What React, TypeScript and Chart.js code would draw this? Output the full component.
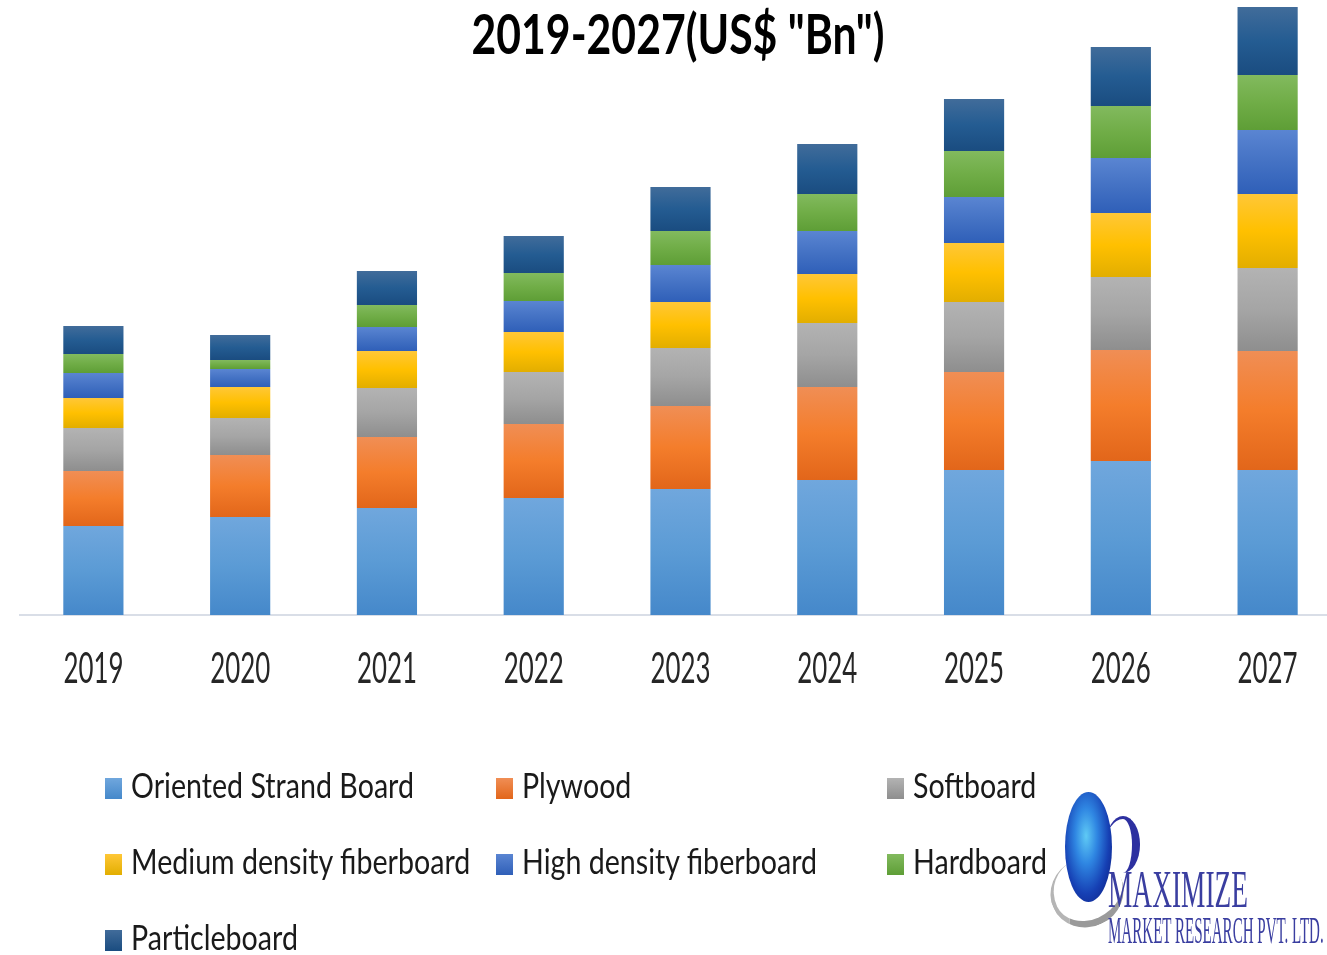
import React, { useEffect, useRef } from "react";
import { Chart, registerables } from "chart.js";

Chart.register(...registerables);

const YEARS = ["2019", "2020", "2021", "2022", "2023", "2024", "2025", "2026", "2027"];

const SERIES_NAMES = [
  "Oriented Strand Board",
  "Plywood",
  "Softboard",
  "Medium density fiberboard",
  "High density fiberboard",
  "Hardboard",
  "Particleboard",
];

const OSB = [8.9, 9.8, 10.7, 11.7, 12.6, 13.5, 14.5, 15.4, 14.5];
const PLYWOOD = [5.5, 6.2, 7.1, 7.4, 8.3, 9.3, 9.8, 11.1, 11.9];
const SOFTBOARD = [4.3, 3.7, 4.9, 5.2, 5.8, 6.4, 7.0, 7.3, 8.3];
const MDF = [3.0, 3.1, 3.7, 4.0, 4.6, 4.9, 5.9, 6.4, 7.4];
const HDF = [2.5, 1.8, 2.4, 3.1, 3.7, 4.3, 4.6, 5.5, 6.4];
const HARDBOARD = [1.9, 0.9, 2.2, 2.8, 3.4, 3.7, 4.6, 5.2, 5.5];
const PARTICLEBOARD = [2.8, 2.5, 3.4, 3.7, 4.4, 5.0, 5.2, 5.9, 6.8];

const SERIES_VALUES = [OSB, PLYWOOD, SOFTBOARD, MDF, HDF, HARDBOARD, PARTICLEBOARD];

// [top, middle, bottom] gradient colours, base colour for legend
const SERIES_COLORS = [
  { base: "#5B9BD5", stops: ["#70A7DD", "#5B9BD5", "#4588CA"] },
  { base: "#ED7D31", stops: ["#F08E55", "#F47D2B", "#E2661A"] },
  { base: "#A5A5A5", stops: ["#B3B3B3", "#A5A5A5", "#8E8E8E"] },
  { base: "#FFC000", stops: ["#FFC737", "#FFC000", "#E2AE00"] },
  { base: "#4472C4", stops: ["#5A85D2", "#4472C4", "#2F5FB8"] },
  { base: "#70AD47", stops: ["#82BA5E", "#70AD47", "#5E9E36"] },
  { base: "#255E91", stops: ["#416C9A", "#245C92", "#1A4C80"] },
];

const TITLE = '2019-2027(US$ "Bn")';
const FONT = "Lato, 'Open Sans', 'Liberation Sans', sans-serif";
const SERIF = "'Liberation Serif', 'DejaVu Serif', serif";

const LEGEND_COLS = [105, 496, 887];
const LEGEND_ROWS = [773, 849, 925];

function measure(text: string, font: string): number {
  const c = document.createElement("canvas").getContext("2d");
  if (!c) return 1;
  c.font = font;
  return c.measureText(text).width || 1;
}

const stretchTicks = {
  id: "stretchTicks",
  afterDraw(chart: any) {
    const xs = chart.scales.x;
    const ctx = chart.ctx;
    ctx.save();
    ctx.font = `32px ${FONT}`;
    ctx.fillStyle = "#262626";
    ctx.textAlign = "center";
    ctx.textBaseline = "alphabetic";
    xs.ticks.forEach((t: any, i: number) => {
      const label = String(xs.getLabelForValue(t.value));
      const x = xs.getPixelForTick(i);
      const w = ctx.measureText(label).width || 1;
      ctx.save();
      ctx.translate(x, xs.top + 68);
      ctx.scale(60 / w, 1.3);
      ctx.fillText(label, 0, 0);
      ctx.restore();
    });
    ctx.restore();
  },
};

export default function App() {
  const canvasRef = useRef<HTMLCanvasElement | null>(null);

  useEffect(() => {
    const canvas = canvasRef.current;
    if (!canvas) return;
    const chart = new Chart(canvas, {
      type: "bar",
      data: {
        labels: YEARS,
        datasets: SERIES_VALUES.map((vals, d) => ({
          label: SERIES_NAMES[d],
          data: vals,
          barPercentage: 0.41,
          categoryPercentage: 1,
          borderWidth: 0,
          backgroundColor: (ctx: any) => {
            const c = SERIES_COLORS[d];
            if (ctx.type !== "data") return c.base;
            const ch = ctx.chart;
            const ys = ch.scales && ch.scales.y;
            if (!ys) return c.base;
            const i = ctx.dataIndex;
            let start = 0;
            for (let k = 0; k < d; k++) start += SERIES_VALUES[k][i];
            const end = start + SERIES_VALUES[d][i];
            const y0 = ys.getPixelForValue(end);
            const y1 = ys.getPixelForValue(start);
            if (!isFinite(y0) || !isFinite(y1) || y0 === y1) return c.base;
            const g = ch.ctx.createLinearGradient(0, y0, 0, y1);
            g.addColorStop(0, c.stops[0]);
            g.addColorStop(0.5, c.stops[1]);
            g.addColorStop(1, c.stops[2]);
            return g;
          },
        })),
      },
      options: {
        responsive: false,
        animation: false,
        layout: { padding: { left: 20, right: 0, top: 0, bottom: 0 } },
        plugins: {
          legend: { display: false },
          title: { display: false },
          tooltip: { enabled: false },
        },
        scales: {
          x: {
            stacked: true,
            offset: true,
            grid: { display: false, drawTicks: false },
            border: { display: true, color: "#d9dee7", width: 2 },
            ticks: { display: false, autoSkip: false, maxRotation: 0 },
            afterFit: (s: any) => {
              s.height = 340;
            },
          },
          y: { stacked: true, display: false, min: 0, max: 61.5 },
        },
      },
      plugins: [stretchTicks],
    });
    return () => chart.destroy();
  }, []);

  const titleScale = 413 / measure(TITLE, `bold 50px ${FONT}`);
  const legendScale = 283 / measure(SERIES_NAMES[0], `35px ${FONT}`);
  const logoScale1 = 140 / measure("MAXIMIZE", `53px ${SERIF}`);
  const logoScale2 = 216 / measure("MARKET RESEARCH PVT. LTD.", `38px ${SERIF}`);

  return (
    <div
      style={{
        position: "absolute",
        left: 0,
        top: 0,
        width: 1327,
        height: 955,
        overflow: "hidden",
        background: "#ffffff",
      }}
    >
      <canvas ref={canvasRef} width={1341} height={955} style={{ display: "block" }} />

      <div
        style={{
          position: "absolute",
          left: 678,
          top: 6,
          transform: `translateX(-50%) scale(${titleScale}, 1.1)`,
          transformOrigin: "top center",
          fontFamily: FONT,
          fontWeight: "bold",
          fontSize: 50,
          lineHeight: 1,
          whiteSpace: "nowrap",
          color: "#000",
        }}
      >
        {TITLE}
      </div>

      {SERIES_NAMES.map((name, idx) => {
        const col = idx % 3;
        const row = Math.floor(idx / 3);
        const x = LEGEND_COLS[col];
        const capTop = LEGEND_ROWS[row];
        return (
          <React.Fragment key={name}>
            <div
              style={{
                position: "absolute",
                left: x,
                top: capTop + 5,
                width: 17,
                height: 21,
                background: `linear-gradient(${SERIES_COLORS[idx].stops[0]}, ${SERIES_COLORS[idx].stops[2]})`,
              }}
            />
            <div
              style={{
                position: "absolute",
                left: x + 26,
                top: capTop - 6,
                fontFamily: FONT,
                fontSize: 35,
                lineHeight: 1,
                whiteSpace: "nowrap",
                color: "#1a1a1a",
                transform: `scaleX(${legendScale})`,
                transformOrigin: "left top",
              }}
            >
              {name}
            </div>
          </React.Fragment>
        );
      })}

      {/* logo */}
      <div
        style={{
          position: "absolute",
          left: 1050,
          top: 858,
          width: 70,
          height: 62,
          borderRadius: "50%",
          borderBottom: "7px solid #9a9a9a",
          borderLeft: "4px solid #b5b5b5",
          borderTop: "0 solid transparent",
          borderRight: "0 solid transparent",
          transform: "rotate(-25deg)",
        }}
      />
      <div
        style={{
          position: "absolute",
          left: 1106,
          top: 816,
          width: 26,
          height: 54,
          borderRadius: "50%",
          borderRight: "8px solid #2d30a0",
          borderTop: "3px solid #2d30a0",
        }}
      />
      <div
        style={{
          position: "absolute",
          left: 1065,
          top: 792,
          width: 47,
          height: 110,
          borderRadius: "50%",
          background:
            "radial-gradient(ellipse at 45% 40%, #5fcaf5 0%, #2f86e2 30%, #1640b4 62%, #0a1470 100%)",
        }}
      />
      <div
        style={{
          position: "absolute",
          left: 1108,
          top: 863,
          fontFamily: SERIF,
          fontSize: 53,
          lineHeight: 1,
          color: "#3a3ea0",
          transform: `scaleX(${logoScale1})`,
          transformOrigin: "left top",
          whiteSpace: "nowrap",
        }}
      >
        MAXIMIZE
      </div>
      <div
        style={{
          position: "absolute",
          left: 1108,
          top: 911,
          fontFamily: SERIF,
          fontSize: 38,
          lineHeight: 1,
          color: "#3a3ea0",
          transform: `scaleX(${logoScale2})`,
          transformOrigin: "left top",
          whiteSpace: "nowrap",
        }}
      >
        MARKET RESEARCH PVT. LTD.
      </div>
    </div>
  );
}
